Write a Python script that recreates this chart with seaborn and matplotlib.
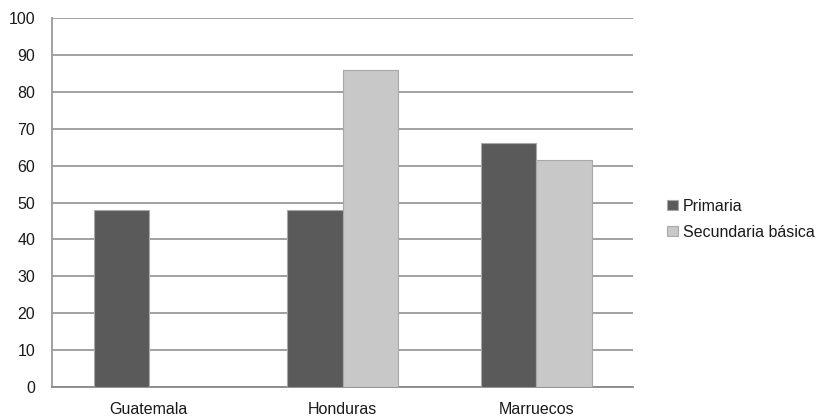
import numpy as np
import pandas as pd
import matplotlib
matplotlib.use("Agg")
import matplotlib.pyplot as plt
import seaborn as sns

categories = ["Guatemala", "Honduras", "Marruecos"]
series_names = ["Primaria", "Secundaria básica"]
primaria = [48, 48, 66]
secundaria = [np.nan, 86, 61.5]
y_ticks = [0, 10, 20, 30, 40, 50, 60, 70, 80, 90, 100]

df = pd.DataFrame({
    "pais": categories * 2,
    "serie": [series_names[0]] * 3 + [series_names[1]] * 3,
    "valor": primaria + secundaria,
})

sns.set_theme(style="white")
plt.rcParams["font.family"] = ["Liberation Sans", "DejaVu Sans"]

fig = plt.figure(figsize=(8.17, 4.16), dpi=100)
ax = fig.add_axes([0.0636, 0.0697, 0.775 - 0.0636, 0.9567 - 0.0697])

sns.barplot(data=df, x="pais", y="valor", hue="serie", order=categories,
            hue_order=series_names, palette=["#5a5a5a", "#c8c8c8"],
            width=0.57, gap=0, ax=ax, edgecolor="#a8a8a8", linewidth=0.8,
            saturation=1, errorbar=None, zorder=3)

ax.set_ylim(0, 100)
ax.set_xlim(-0.5, 2.5)
ax.set_yticks(y_ticks)
ax.set_yticklabels([str(t) for t in y_ticks])
ax.yaxis.grid(True, color="#9a9a9a", linewidth=1.3)
ax.set_axisbelow(True)
ax.set_xlabel("")
ax.set_ylabel("")
for s in ["top", "right"]:
    ax.spines[s].set_visible(False)
ax.spines["left"].set_color("#9a9a9a")
ax.spines["left"].set_linewidth(1.3)
ax.spines["bottom"].set_color("#8a8a8a")
ax.spines["bottom"].set_linewidth(1.3)
ax.tick_params(axis="y", length=0, pad=12, labelsize=11.5, labelcolor="#1a1a1a")
ax.tick_params(axis="x", length=0, pad=11, labelsize=11.5, labelcolor="#1a1a1a")

ax.legend(loc="center left", bbox_to_anchor=(1.034, 0.455), frameon=False,
          fontsize=11.5, handlelength=0.65, handleheight=0.65,
          handletextpad=0.32, labelspacing=0.7)
leg = ax.get_legend()
for t in leg.get_texts():
    t.set_color("#1a1a1a")

fig.savefig("out.png", dpi=100)
